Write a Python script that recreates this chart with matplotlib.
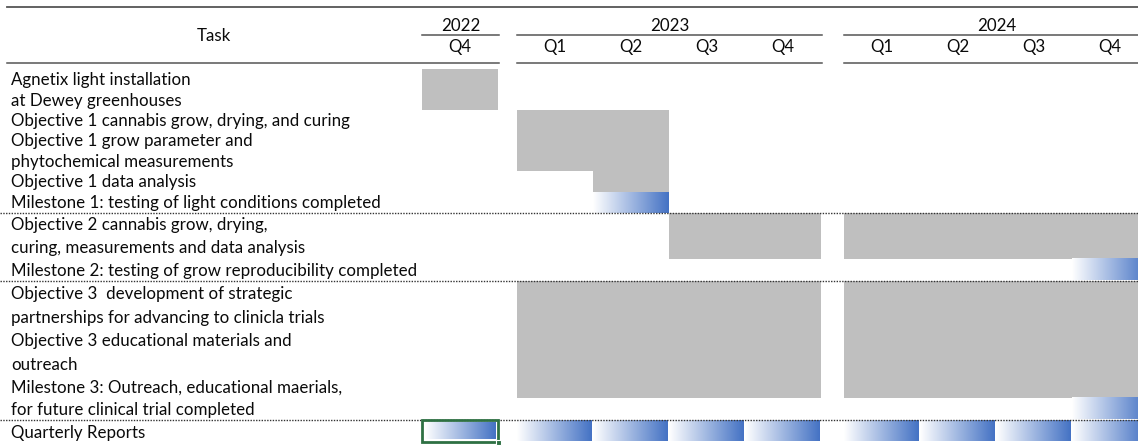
import numpy as np
import matplotlib
matplotlib.use("Agg")
import matplotlib.pyplot as plt
from matplotlib.patches import Rectangle
from matplotlib.colors import LinearSegmentedColormap

# ---------------- data ----------------
years = ["2022", "2023", "2024"]
quarters = ["Q4", "Q1", "Q2", "Q3", "Q4", "Q1", "Q2", "Q3", "Q4"]
quarter_year = [0, 1, 1, 1, 1, 2, 2, 2, 2]

row_labels = [
    "Agnetix light installation",
    "at Dewey greenhouses",
    "Objective 1 cannabis grow, drying, and curing",
    "Objective 1 grow parameter and",
    "phytochemical measurements",
    "Objective 1 data analysis",
    "Milestone 1: testing of light conditions completed",
    "Objective 2 cannabis grow, drying,",
    "curing, measurements and data analysis",
    "Milestone 2: testing of grow reproducibility completed",
    "Objective 3  development of strategic",
    "partnerships for advancing to clinicla trials",
    "Objective 3 educational materials and",
    "outreach",
    "Milestone 3: Outreach, educational maerials,",
    "for future clinical trial completed",
    "Quarterly Reports",
]

# task bars: (first row, last row) and (first quarter, last quarter)
bar_rows = [(0, 1), (2, 4), (5, 5), (7, 8), (10, 14)]
bar_quarters = [(0, 0), (1, 2), (2, 2), (3, 8), (1, 8)]

# milestones: row and quarter
milestone_rows = [6, 9, 15]
milestone_quarters = [2, 8, 8]

# quarterly reports
report_row = 16
report_quarters = [0, 1, 2, 3, 4, 5, 6, 7, 8]

# ---------------- layout ----------------
W, H = 1138, 447
fig = plt.figure(figsize=(W / 100, H / 100), dpi=100)
ax = fig.add_axes([0, 0, 1, 1])
ax.set_axis_off()

FONT = "Lato"
FS = 12.15
TXT = "#0a0a0a"
GRAY = "#BFBFBF"
BLUE = "#4472C4"
LINE = "#555555"
grad_cmap = LinearSegmentedColormap.from_list("g", ["#FFFFFF", BLUE])

task_col_right = 422
qw = 76
year_gaps = {0: 0, 1: 19, 2: 42}
col_left = [task_col_right + i * qw + year_gaps[quarter_year[i]] for i in range(len(quarters))]

row_heights = [20.5, 20.5, 20.3, 20.3, 20.4, 21, 20.5,
               23.5, 23, 21.5,
               24.5, 23, 24, 23, 23, 21.5,
               21.5]
row_top = [69.0]
for h in row_heights:
    row_top.append(row_top[-1] + h)

section_breaks = [7, 10, 16]
TY = 1.0  # small downward text offset


def runs(q0, q1):
    """split a quarter span into contiguous runs within the same year"""
    out = []
    start = q0
    for q in range(q0, q1 + 1):
        if q == q1 or quarter_year[q + 1] != quarter_year[q]:
            out.append((start, q))
            start = q + 1
    return out


def gradient(x0, x1, y0, y1):
    g = np.linspace(0, 1, 256).reshape(1, -1)
    ax.imshow(g, cmap=grad_cmap, aspect="auto", extent=(x0, x1, y1, y0),
              interpolation="bilinear", zorder=2)


# header
ax.plot([7, W], [6.5, 6.5], color=LINE, lw=1.3, zorder=3)
ax.text(214, 35 + TY, "Task", ha="center", va="center", fontsize=FS, family=FONT, color=TXT)
for yi, yr in enumerate(years):
    qs = [i for i in range(len(quarters)) if quarter_year[i] == yi]
    xl = col_left[qs[0]]
    xr = col_left[qs[-1]] + qw
    ax.plot([xl, xr + 1], [34.5, 34.5], color=LINE, lw=1.1, zorder=3)
    ax.text((xl + xr) / 2 + 0.5, 25 + TY, yr, ha="center", va="center",
            fontsize=FS, family=FONT, color=TXT)
    x_start = 7 if yi == 0 else xl
    ax.plot([x_start, xr + 1], [62.5, 62.5], color=LINE, lw=1.1, zorder=3)
for i, q in enumerate(quarters):
    ax.text(col_left[i] + qw / 2, 46 + TY, q, ha="center", va="center",
            fontsize=FS, family=FONT, color=TXT)

# row labels
for r, lab in enumerate(row_labels):
    yc = (row_top[r] + row_top[r + 1]) / 2 + TY
    if r == report_row:
        yc += 1.5
    ax.text(11, yc, lab, ha="left", va="center", fontsize=FS, family=FONT, color=TXT)

# bars
for (r0, r1), (q0, q1) in zip(bar_rows, bar_quarters):
    for a, b in runs(q0, q1):
        x0 = col_left[a]
        x1 = col_left[b] + qw
        ax.add_patch(Rectangle((x0, row_top[r0]), x1 - x0, row_top[r1 + 1] - row_top[r0],
                               facecolor=GRAY, edgecolor="none", zorder=1))

# milestones
for r, q in zip(milestone_rows, milestone_quarters):
    gradient(col_left[q], col_left[q] + qw, row_top[r], row_top[r + 1])

# quarterly reports
for q in report_quarters:
    y0 = row_top[report_row] + 0.8
    y1 = row_top[report_row + 1]
    if q == 0:
        gradient(col_left[q] + 3, col_left[q] + qw - 2, y0 + 2, y1 - 2)
    else:
        gradient(col_left[q] + 0.5, col_left[q] + qw - 1, y0, y1)

# selected cell (Excel style)
sel_x0 = col_left[0]
sel_y0 = row_top[report_row]
sel_y1 = row_top[report_row + 1]
ax.add_patch(Rectangle((sel_x0, sel_y0 + 0.5), qw, sel_y1 - sel_y0, facecolor="none",
                       edgecolor="#2E7043", lw=2.0, zorder=4))
ax.add_patch(Rectangle((sel_x0 + qw - 2, sel_y1 - 1.5), 5, 5, facecolor="#2E7043",
                       edgecolor="white", lw=0.8, zorder=5))

# dotted section separators
for r in section_breaks:
    y = row_top[r]
    ax.plot([0, W], [y, y], color="#333333", lw=1.0, ls=(0, (1, 1)), zorder=3)

ax.set_xlim(0, W)
ax.set_ylim(H, 0)
fig.savefig("out.png", dpi=100)
